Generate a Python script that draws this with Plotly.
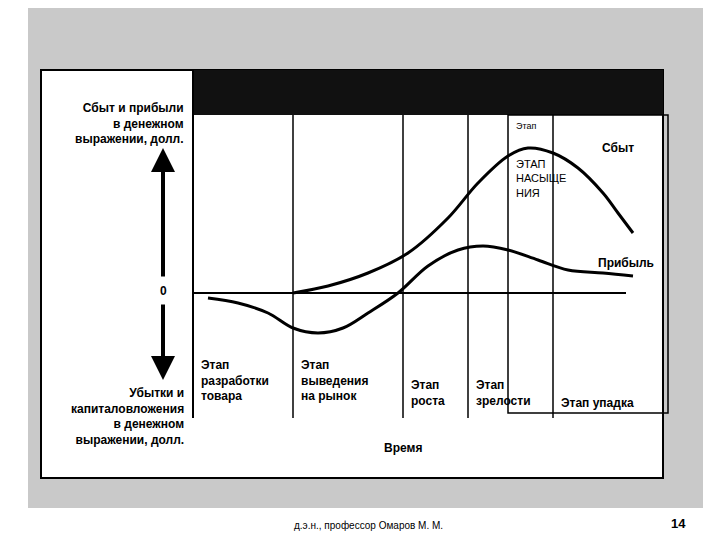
import plotly.graph_objects as go

# curve points (x, y in image pixels)
sales_x = [285, 320, 360, 400, 440, 470, 500, 520, 545, 570, 595, 610, 625]
sales_y = [285, 278, 265, 245, 210, 175, 148, 140, 145, 160, 185, 205, 225]
profit_x = [200, 230, 260, 285, 310, 335, 360, 390, 420, 450, 475, 500, 530, 560, 595, 625]
profit_y = [290, 295, 305, 320, 325, 320, 305, 285, 258, 242, 238, 242, 252, 262, 265, 268]
stage_x = [185, 285, 395, 460, 545, 655]
stage_labels = ["Этап<br>разработки<br>товара", "Этап<br>выведения<br>на рынок",
                "Этап<br>роста", "Этап<br>зрелости", "Этап упадка"]
stage_label_y = [372, 372, 385, 385, 395]

fig = go.Figure()
fig.add_trace(go.Scatter(x=sales_x, y=sales_y, mode="lines", line=dict(color="black", width=3, shape="spline")))
fig.add_trace(go.Scatter(x=profit_x, y=profit_y, mode="lines", line=dict(color="black", width=3, shape="spline")))

shapes = [
    dict(type="rect", x0=20, x1=695, y0=0, y1=500, fillcolor="#c9c9c9", line_width=0, layer="below"),
    dict(type="rect", x0=33, x1=655, y0=62, y1=470, fillcolor="white", line=dict(color="black", width=2), layer="below"),
    dict(type="rect", x0=185, x1=655, y0=62, y1=107, fillcolor="#111", line_width=0),
    dict(type="line", x0=185, x1=185, y0=62, y1=410, line=dict(color="black", width=2)),
    dict(type="line", x0=185, x1=618, y0=285, y1=285, line=dict(color="black", width=2)),
    dict(type="rect", x0=500, x1=660, y0=107, y1=405, line=dict(color="black", width=1.5)),
]
for sx in stage_x[1:-1]:
    shapes.append(dict(type="line", x0=sx, x1=sx, y0=107, y1=410, line=dict(color="black", width=1.5)))
fig.update_layout(shapes=shapes)

ann = []
def txt(x, y, t, size=12, bold=True, xa="left", align="left"):
    ann.append(dict(x=x, y=y, text=("<b>%s</b>" % t) if bold else t, showarrow=False,
                    xanchor=xa, align=align, font=dict(size=size, color="black", family="Liberation Sans")))

txt(178, 115, "Сбыт и прибыли<br>в денежном<br>выражении, долл.", xa="right", align="right")
txt(178, 408, "Убытки и<br>капиталовложения<br>в денежном<br>выражении, долл.", xa="right", align="right")
txt(155, 283, "0", xa="center")
for sx, lab, ly in zip(stage_x, stage_labels, stage_label_y):
    txt(sx + 6, ly, lab)
txt(395, 440, "Время", xa="center")
txt(592, 140, "Сбыт")
txt(588, 255, "Прибыль")
txt(506, 118, "Этап", size=9, bold=False)
txt(506, 170, "ЭТАП<br>НАСЫЩЕ<br>НИЯ", size=11, bold=False)
txt(360, 517, "д.э.н., профессор Омаров М. М.", size=10, bold=False, xa="center")
txt(670, 515, "14", size=13, xa="center")
# double arrows
ann.append(dict(x=155, y=140, ax=155, ay=270, xref="x", yref="y", axref="x", ayref="y",
                showarrow=True, arrowhead=2, arrowsize=1.2, arrowwidth=4, arrowcolor="black", text=""))
ann.append(dict(x=155, y=372, ax=155, ay=295, xref="x", yref="y", axref="x", ayref="y",
                showarrow=True, arrowhead=2, arrowsize=1.2, arrowwidth=4, arrowcolor="black", text=""))
fig.update_layout(annotations=ann)

fig.update_layout(width=720, height=540, autosize=False, margin=dict(l=0, r=0, t=0, b=0, pad=0),
                  showlegend=False, plot_bgcolor="white", paper_bgcolor="white",
                  xaxis=dict(range=[0, 720], visible=False, fixedrange=True),
                  yaxis=dict(range=[540, 0], visible=False, fixedrange=True))
fig.write_html("out.html", config=dict(responsive=False, displayModeBar=False))
